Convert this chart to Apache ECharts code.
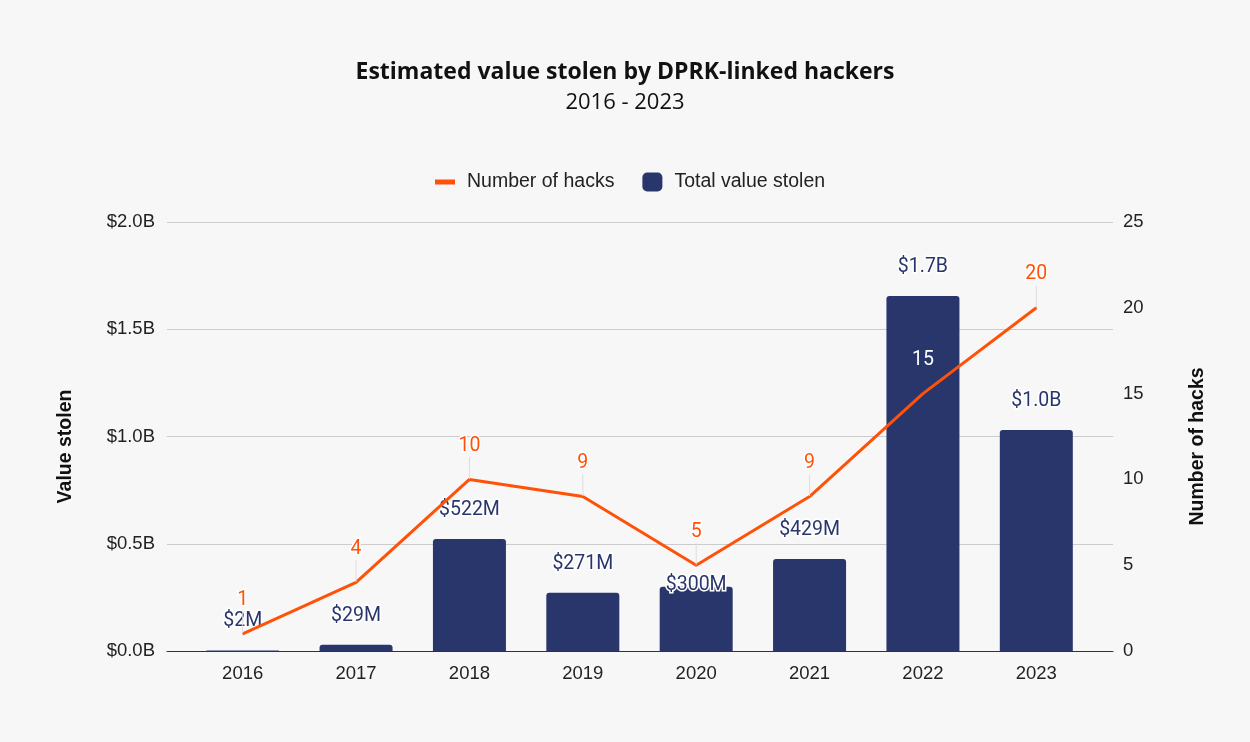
<!DOCTYPE html>
<html>
<head>
<meta charset="utf-8">
<title>Estimated value stolen by DPRK-linked hackers</title>
<script src="https://cdn.jsdelivr.net/npm/echarts@6/dist/echarts.min.js"></script>
<style>
  html, body { margin: 0; padding: 0; background: #f7f7f7; }
  #chart { width: 1250px; height: 742px; }
</style>
</head>
<body>
<div id="chart"></div>
<script>
// Years on the category axis
const years = ['2016', '2017', '2018', '2019', '2020', '2021', '2022', '2023'];
// Total value stolen per year, in millions of US dollars
const valueStolenM = [2, 29, 522, 271, 300, 429, 1655, 1030];
// Number of hacks per year
const hackCounts = [1, 4, 10, 9, 5, 9, 15, 20];

const NAVY = '#29366b';
const ORANGE = '#ff5208';
const TEXT = '#222222';
const BODY_FONT = '"Liberation Sans", Arial, sans-serif';
const LABEL_FONT = 'Roboto, "Liberation Sans", sans-serif';
const TITLE_FONT = '"Open Sans", Lato, sans-serif';

function moneyLabel(m) {
  return m >= 1000 ? '$' + (m / 1000).toFixed(1) + 'B' : '$' + m + 'M';
}

// Bar labels: the 2020 one sits just above its bar so it clears the line label
const barData = valueStolenM.map((v, i) => {
  const item = { value: v };
  if (years[i] === '2020') item.label = { offset: [0, 27] };
  return item;
});

// Line labels: the one drawn over the dark 2022 bar is white
const lineData = hackCounts.map((v, i) => {
  const item = { value: v };
  if (years[i] === '2022') {
    item.label = { color: '#ffffff', textBorderWidth: 0 };
    item.labelLine = { show: false };
  }
  return item;
});

const chart = echarts.init(document.getElementById('chart'), null, { renderer: 'canvas' });

chart.setOption({
  backgroundColor: '#f7f7f7',
  animation: false,
  title: {
    text: 'Estimated value stolen by DPRK-linked hackers',
    subtext: '2016 - 2023',
    left: 'center',
    top: 56,
    itemGap: 8,
    textStyle: { fontFamily: TITLE_FONT, fontWeight: 'bold', fontSize: 23, color: '#111' },
    subtextStyle: { fontFamily: TITLE_FONT, fontSize: 22, color: '#111' }
  },
  legend: {
    top: 167,
    left: 430,
    itemGap: 28,
    itemWidth: 20,
    itemHeight: 19,
    textStyle: { fontFamily: BODY_FONT, fontSize: 19.5, color: TEXT, padding: [0, 0, 0, 7] },
    data: [
      { name: 'Number of hacks', icon: 'path://M0,7 L20,7 L20,12 L0,12 Z', itemStyle: { color: ORANGE } },
      { name: 'Total value stolen', icon: 'roundRect', itemStyle: { color: NAVY } }
    ]
  },
  grid: [
    // frame grid: gridlines, axis labels, baseline
    { left: 167, right: 137, top: 222, bottom: 91 },
    // plotting grid: categories are inset inside the frame
    { left: 186, right: 157, top: 222, bottom: 91 }
  ],
  xAxis: [
    {
      gridIndex: 0, type: 'value', min: 0, max: 1,
      axisLine: { show: true, onZero: false, lineStyle: { color: '#333', width: 1 } },
      axisTick: { show: false }, axisLabel: { show: false }, splitLine: { show: false }
    },
    {
      gridIndex: 1, type: 'category', data: years,
      axisLine: { show: false }, axisTick: { show: false },
      axisLabel: { margin: 13, fontFamily: BODY_FONT, fontSize: 18.5, color: TEXT }
    }
  ],
  yAxis: [
    {
      gridIndex: 0, type: 'value', min: 0, max: 2000, interval: 500, position: 'left',
      name: 'Value stolen', nameLocation: 'middle', nameGap: 91, nameRotate: 90,
      nameTextStyle: { fontFamily: BODY_FONT, fontWeight: 'bold', fontSize: 19.5, color: '#111', padding: [0, 0, 0, -20] },
      axisLine: { show: false }, axisTick: { show: false },
      axisLabel: { margin: 12, fontFamily: BODY_FONT, fontSize: 18.5, color: TEXT, formatter: v => '$' + (v / 1000).toFixed(1) + 'B' },
      splitLine: { show: true, lineStyle: { color: '#cccccc', width: 1 } }
    },
    {
      gridIndex: 0, type: 'value', min: 0, max: 25, interval: 5, position: 'right',
      name: 'Number of hacks', nameLocation: 'middle', nameGap: 75, nameRotate: 90,
      nameTextStyle: { fontFamily: BODY_FONT, fontWeight: 'bold', fontSize: 19.5, color: '#111', padding: [0, 0, 0, -20] },
      axisLine: { show: false }, axisTick: { show: false },
      axisLabel: { margin: 10, fontFamily: BODY_FONT, fontSize: 18.5, color: TEXT },
      splitLine: { show: false }
    },
    { gridIndex: 1, type: 'value', min: 0, max: 2000, show: false },
    { gridIndex: 1, type: 'value', min: 0, max: 25, show: false }
  ],
  series: [
    {
      name: 'Total value stolen',
      type: 'bar',
      xAxisIndex: 1, yAxisIndex: 2,
      barWidth: 73,
      itemStyle: { color: NAVY, borderRadius: [3, 3, 0, 0] },
      label: {
        show: true, position: 'top', distance: 19,
        fontFamily: LABEL_FONT, fontSize: 19.5, color: NAVY,
        textBorderColor: '#ffffff', textBorderWidth: 3,
        formatter: p => moneyLabel(p.value)
      },
      data: barData,
      z: 2
    },
    {
      name: 'Number of hacks',
      type: 'line',
      xAxisIndex: 1, yAxisIndex: 3,
      symbol: 'circle',
      symbolSize: 1,
      showSymbol: true,
      lineStyle: { color: ORANGE, width: 3 },
      itemStyle: { color: ORANGE },
      label: {
        show: true, position: 'top', distance: 4,
        fontFamily: LABEL_FONT, fontSize: 19.5, color: ORANGE,
        textBorderColor: '#ffffff', textBorderWidth: 3
      },
      labelLayout: { dy: -19 },
      labelLine: { show: true, lineStyle: { color: '#dddddd', width: 1 } },
      data: lineData,
      z: 3
    }
  ]
});
</script>
</body>
</html>
